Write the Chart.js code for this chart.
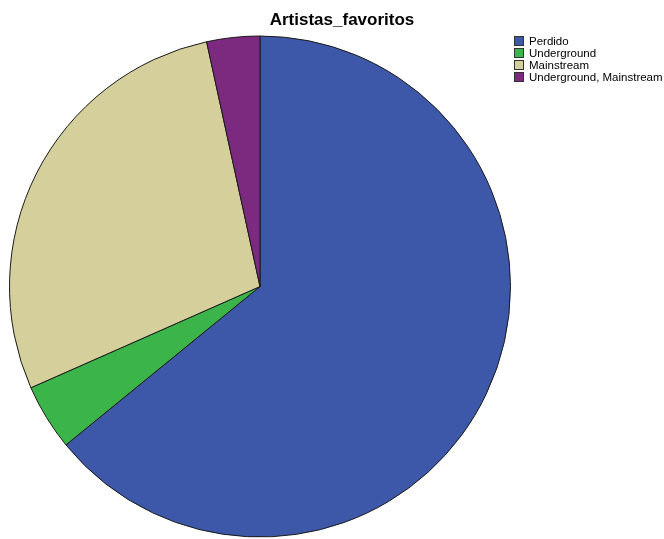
<!DOCTYPE html>
<html>
<head>
<meta charset="utf-8">
<script src="https://cdn.jsdelivr.net/npm/chart.js@4/dist/chart.umd.min.js"></script>
<style>
  html, body { margin: 0; padding: 0; background: #fff; }
  #wrap { position: relative; width: 664px; height: 539px; overflow: hidden; }
  #title {
    position: absolute; left: 200px; width: 284px; top: 11px;
    text-align: center; font: bold 17px/17px "Liberation Sans", Arial, sans-serif; color: #000;
  }
  #legend {
    position: absolute; left: 514px; top: 35px;
    font: 11.5px/12px "Liberation Sans", Arial, sans-serif; color: #000; white-space: nowrap;
  }
  #legend .row { height: 12px; display: flex; align-items: center; }
  #legend .box { width: 8px; height: 8px; border: 1px solid #333; margin-right: 5px; }
  canvas { position: absolute; left: 0; top: 0; }
</style>
</head>
<body>
<div id="wrap">
  <canvas id="chart" width="664" height="539"></canvas>
  <div id="title">Artistas_favoritos</div>
  <div id="legend"></div>
</div>
<script>
// Categorias e contagens
var categories = ["Perdido", "Underground", "Mainstream", "Underground, Mainstream"];
var counts = [75, 5, 33, 4];
var colors = ["#3e58a9", "#3bb54a", "#d4cf9b", "#7b2a7f"];

// Legenda montada a partir das mesmas listas
var legend = document.getElementById('legend');
for (var i = 0; i < categories.length; i++) {
  var row = document.createElement('div');
  row.className = 'row';
  var box = document.createElement('span');
  box.className = 'box';
  box.style.background = colors[i];
  var txt = document.createElement('span');
  txt.textContent = categories[i];
  row.appendChild(box);
  row.appendChild(txt);
  legend.appendChild(row);
}

var ctx = document.getElementById('chart').getContext('2d');
new Chart(ctx, {
  type: 'pie',
  data: {
    labels: categories,
    datasets: [{
      data: counts,
      backgroundColor: colors,
      borderColor: '#1a1a1a',
      borderWidth: 1
    }]
  },
  options: {
    responsive: false,
    animation: false,
    layout: { padding: { top: 34, left: 9, right: 153, bottom: 0 } },
    plugins: {
      tooltip: { enabled: false },
      title: { display: false },
      legend: { display: false }
    }
  }
});
</script>
</body>
</html>
